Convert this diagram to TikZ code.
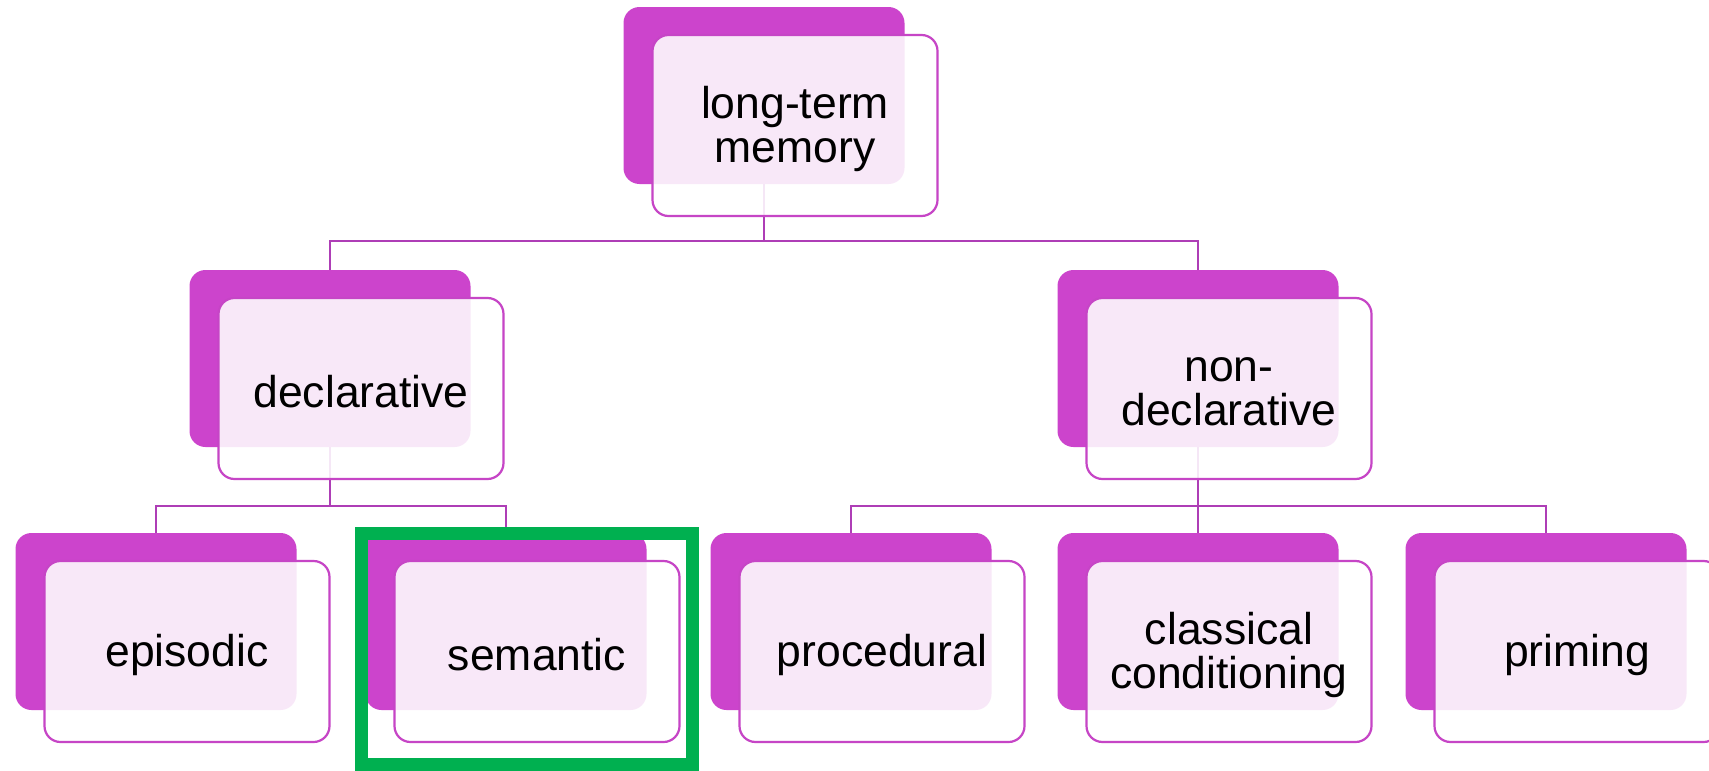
\documentclass[tikz,border=0pt]{standalone}
\usepackage{fontspec}
\setmainfont{Liberation Sans}
\usetikzlibrary{calc}
\definecolor{mag}{HTML}{CC44CC}
\definecolor{magline}{HTML}{C645C6}
\definecolor{conncol}{HTML}{AE3EB6}
\definecolor{hl}{HTML}{00B050}
\tikzset{
  backbox/.style={rectangle, rounded corners=16pt, fill=mag,
    minimum width=281pt, minimum height=177pt, inner sep=0pt},
  frontbox/.style={rectangle, rounded corners=16pt, fill=white, fill opacity=0.88,
    draw=magline, line width=2.2pt,
    minimum width=285pt, minimum height=181pt, inner sep=0pt},
  lbl/.style={inner sep=0pt, align=center,
    font=\fontsize{44.5}{44}\selectfont},
  conn/.style={draw=conncol, line width=2.6pt},
  hlframe/.style={draw=hl, line width=13pt},
}
\begin{document}
\begin{tikzpicture}[x=1pt,y=-1pt]
\useasboundingbox (0,0) rectangle (1709,771);
\fill[white] (0,0) rectangle (1709,771);

% back blocks
\node[backbox] (ltmB)   at (764,95.5)  {};
\node[backbox] (declB)  at (330,358.5) {};
\node[backbox] (ndeclB) at (1198,358.5) {};
\node[backbox] (epiB)   at (156,621.5) {};
\node[backbox] (semB)   at (506,621.5) {};
\node[backbox] (procB)  at (851,621.5) {};
\node[backbox] (classB) at (1198,621.5) {};
\node[backbox] (primB)  at (1546,621.5) {};

% junction points of the tree connectors
\coordinate (j1) at (764,241);
\coordinate (j2) at (330,506);
\coordinate (j3) at (1198,506);

% connectors (drawn beneath the translucent front blocks)
\draw[conn] (ltmB.south) -- (j1);
\draw[conn] (declB.north) |- (j1);
\draw[conn] (ndeclB.north) |- (j1);
\draw[conn] (declB.south) -- (j2);
\draw[conn] (epiB.north) |- (j2);
\draw[conn] (semB.north) |- (j2);
\draw[conn] (ndeclB.south) -- (j3);
\draw[conn] (procB.north) |- (j3);
\draw[conn] (classB.north) -- (j3);
\draw[conn] (primB.north) |- (j3);

% front blocks
\node[frontbox] (ltm)   at (795,125.5)  {};
\node[frontbox] (decl)  at (361,388.5)  {};
\node[frontbox] (ndecl) at (1229,388.5) {};
\node[frontbox] (epi)   at (187,651.5)  {};
\node[frontbox] (sem)   at (537,651.5)  {};
\node[frontbox] (proc)  at (882,651.5)  {};
\node[frontbox] (class) at (1229,651.5) {};
\node[frontbox] (prim)  at (1577,651.5) {};

% labels, set a little below each block's centre
\node[lbl] (ltmT)   at ($(ltm)+(0,3)$)   {long-term\\memory};
\node[lbl] (declT)  at ($(decl)+(0,3)$)  {declarative};
\node[lbl] (ndeclT) at ($(ndecl)+(0,3)$) {non-\\declarative};
\node[lbl] (epiT)   at ($(epi)+(0,3)$)   {episodic};
\node[lbl] (semT)   at ($(sem)+(0,3)$)   {semantic};
\node[lbl] (procT)  at ($(proc)+(0,3)$)  {procedural};
\node[lbl] (classT) at ($(class)+(0,3)$) {classical\\conditioning};
\node[lbl] (primT)  at ($(prim)+(0,3)$)  {priming};

% highlight frame round the semantic block
\draw[hlframe] (361.5,533.5) rectangle (692.5,764.5);
\end{tikzpicture}
\end{document}
